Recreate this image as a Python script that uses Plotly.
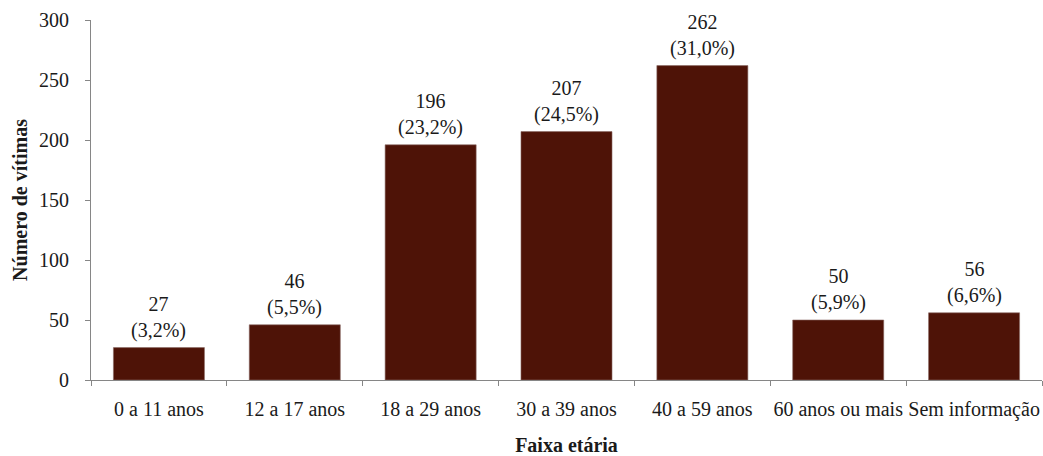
import plotly.graph_objects as go

faixas = ["0 a 11 anos", "12 a 17 anos", "18 a 29 anos", "30 a 39 anos",
          "40 a 59 anos", "60 anos ou mais", "Sem informação"]
vitimas = [27, 46, 196, 207, 262, 50, 56]
percentuais = ["3,2%", "5,5%", "23,2%", "24,5%", "31,0%", "5,9%", "6,6%"]

rotulos = [f"{v}<br>({p})" for v, p in zip(vitimas, percentuais)]

FONT = "Liberation Serif"
GRAY = "#868686"
TXT = "#1a1a1a"

fig = go.Figure(
    go.Bar(
        x=faixas,
        y=vitimas,
        marker=dict(color="#4E1307", line=dict(color="#8a6a64", width=0.6)),
        width=0.67,
        hoverinfo="x+y",
    )
)

# value labels above each bar
for cat, val, lab in zip(faixas, vitimas, rotulos):
    fig.add_annotation(
        x=cat, y=val, text=lab, showarrow=False,
        xanchor="center", yanchor="bottom", yshift=4,
        font=dict(family=FONT, size=20, color=TXT),
    )

fig.update_layout(
    width=1043,
    height=456,
    margin=dict(l=91, r=1, t=20, b=76, autoexpand=False),
    plot_bgcolor="white",
    paper_bgcolor="white",
    font=dict(family=FONT, size=20, color=TXT),
    showlegend=False,
)

fig.update_xaxes(
    title=dict(text="<b>Faixa etária</b>", font=dict(size=20), standoff=24),
    showline=True,
    linecolor=GRAY,
    linewidth=1,
    ticks="outside",
    tickson="boundaries",
    ticklen=5,
    tickcolor=GRAY,
    ticklabelstandoff=11,
    tickangle=0,
    automargin=False,
    showgrid=False,
    tickfont=dict(size=20),
)

fig.update_yaxes(
    title=dict(text="<b>Número de vítimas</b>", font=dict(size=20), standoff=6),
    range=[0, 300],
    dtick=50,
    showline=True,
    linecolor=GRAY,
    linewidth=1,
    ticks="outside",
    ticklen=5,
    tickcolor=GRAY,
    ticklabelstandoff=12,
    automargin=False,
    showgrid=False,
    zeroline=False,
    tickfont=dict(size=20),
)

fig.write_html("out.html")
